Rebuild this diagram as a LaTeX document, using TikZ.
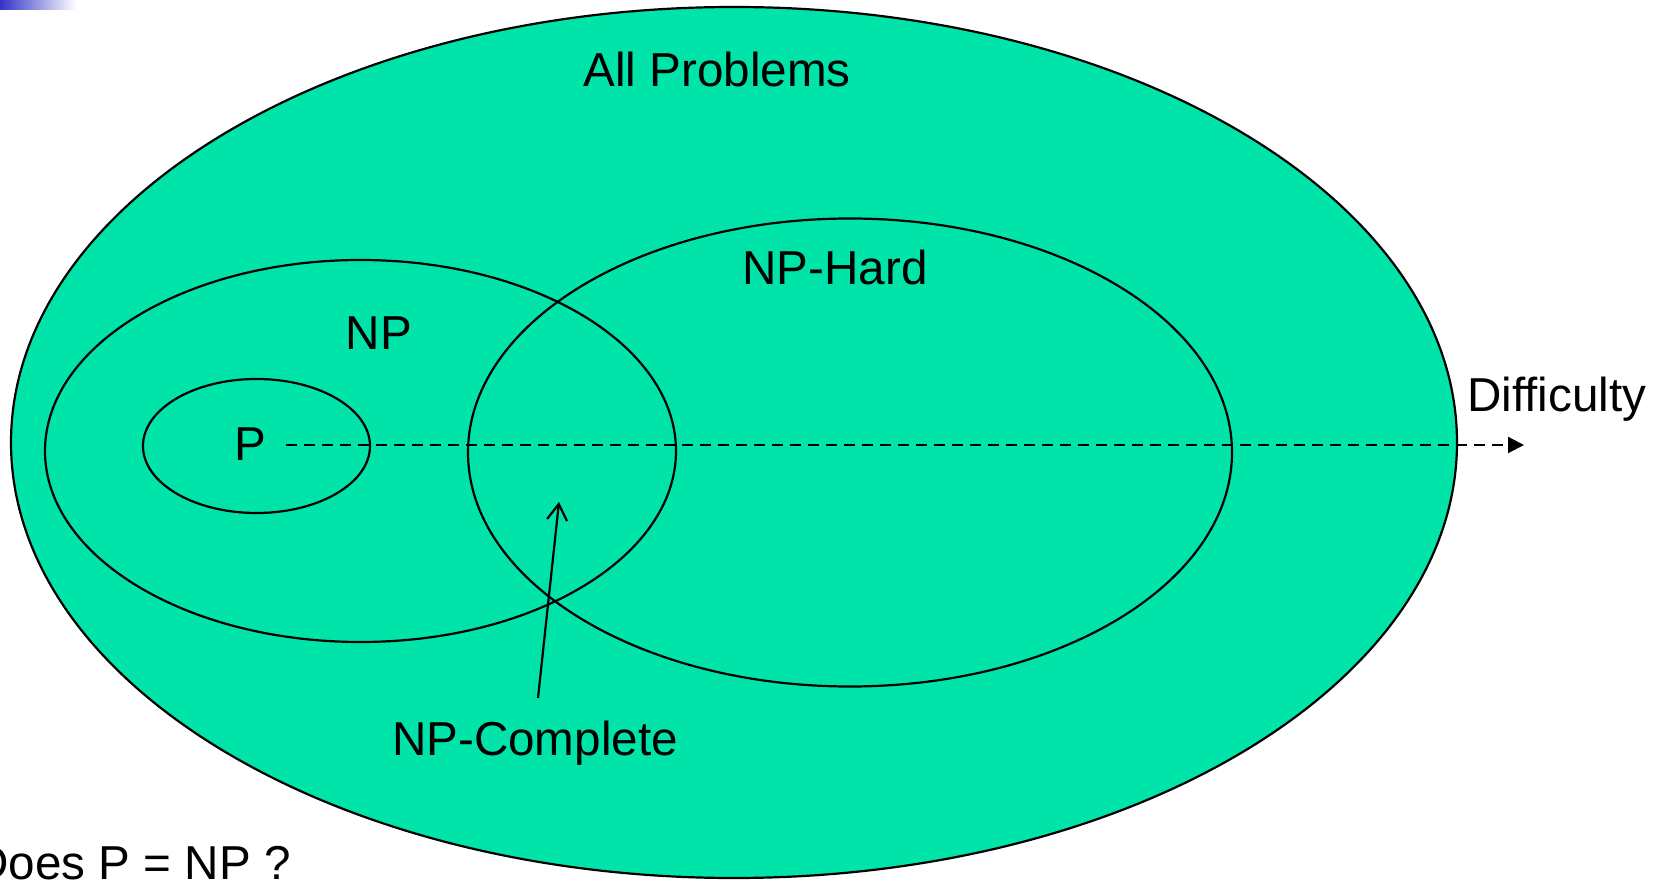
\documentclass[tikz,border=0pt]{standalone}
\usepackage{fontspec}
\setmainfont{Liberation Sans}
\usetikzlibrary{shapes.geometric,arrows.meta}
\definecolor{setgreen}{RGB}{0,228,170}
\definecolor{barblue}{RGB}{51,51,204}
\tikzset{
  setell/.style={ellipse, draw=black, line width=1.1pt, inner sep=0pt, outer sep=0pt},
  lbl/.style={font=\fontsize{23.8pt}{28pt}\selectfont, inner sep=0pt, anchor=base},
}
\begin{document}
\begin{tikzpicture}[x=0.5pt,y=-0.5pt]
\useasboundingbox (0,0) rectangle (1664,881);
\shade[left color=barblue, right color=white] (0,0) rectangle (76,10);
\node[setell, fill=setgreen, minimum width=723pt, minimum height=435.5pt] (all) at (734,442.5) {};
\node[setell, minimum width=315.5pt, minimum height=191pt] (np) at (360.5,451) {};
\node[setell, minimum width=382pt, minimum height=234pt] (nph) at (850,452.5) {};
\node[setell, minimum width=113.5pt, minimum height=67pt] (p) at (256.5,446) {};
\node[lbl] (tall) at (717,87) {All Problems};
\node[lbl] (tnph) at (835,285) {NP-Hard};
\node[lbl] (tnp) at (379,350) {NP};
\node[lbl] (tp) at (250,461) {P};
\node[lbl, anchor=base west] (tdiff) at (1467,411.5) {Difficulty};
\node[lbl] (tnpc) at (535,755.5) {NP-Complete};
\node[lbl, anchor=base east] (tq) at (291,879) {Does P = NP ?};
\coordinate (dstart) at (286,445);
\coordinate (dend) at (1524,445);
\draw[line width=1.1pt, dash pattern=on 5.5pt off 3.5pt, -{Triangle[length=8pt,width=8pt]}] (dstart) -- (dend);
\coordinate (ctail) at (538,698);
\coordinate (chead) at (559,502);
\draw[line width=1.1pt, -{Straight Barb[length=8pt,width=10pt]}] (ctail) -- (chead);
\end{tikzpicture}
\end{document}
